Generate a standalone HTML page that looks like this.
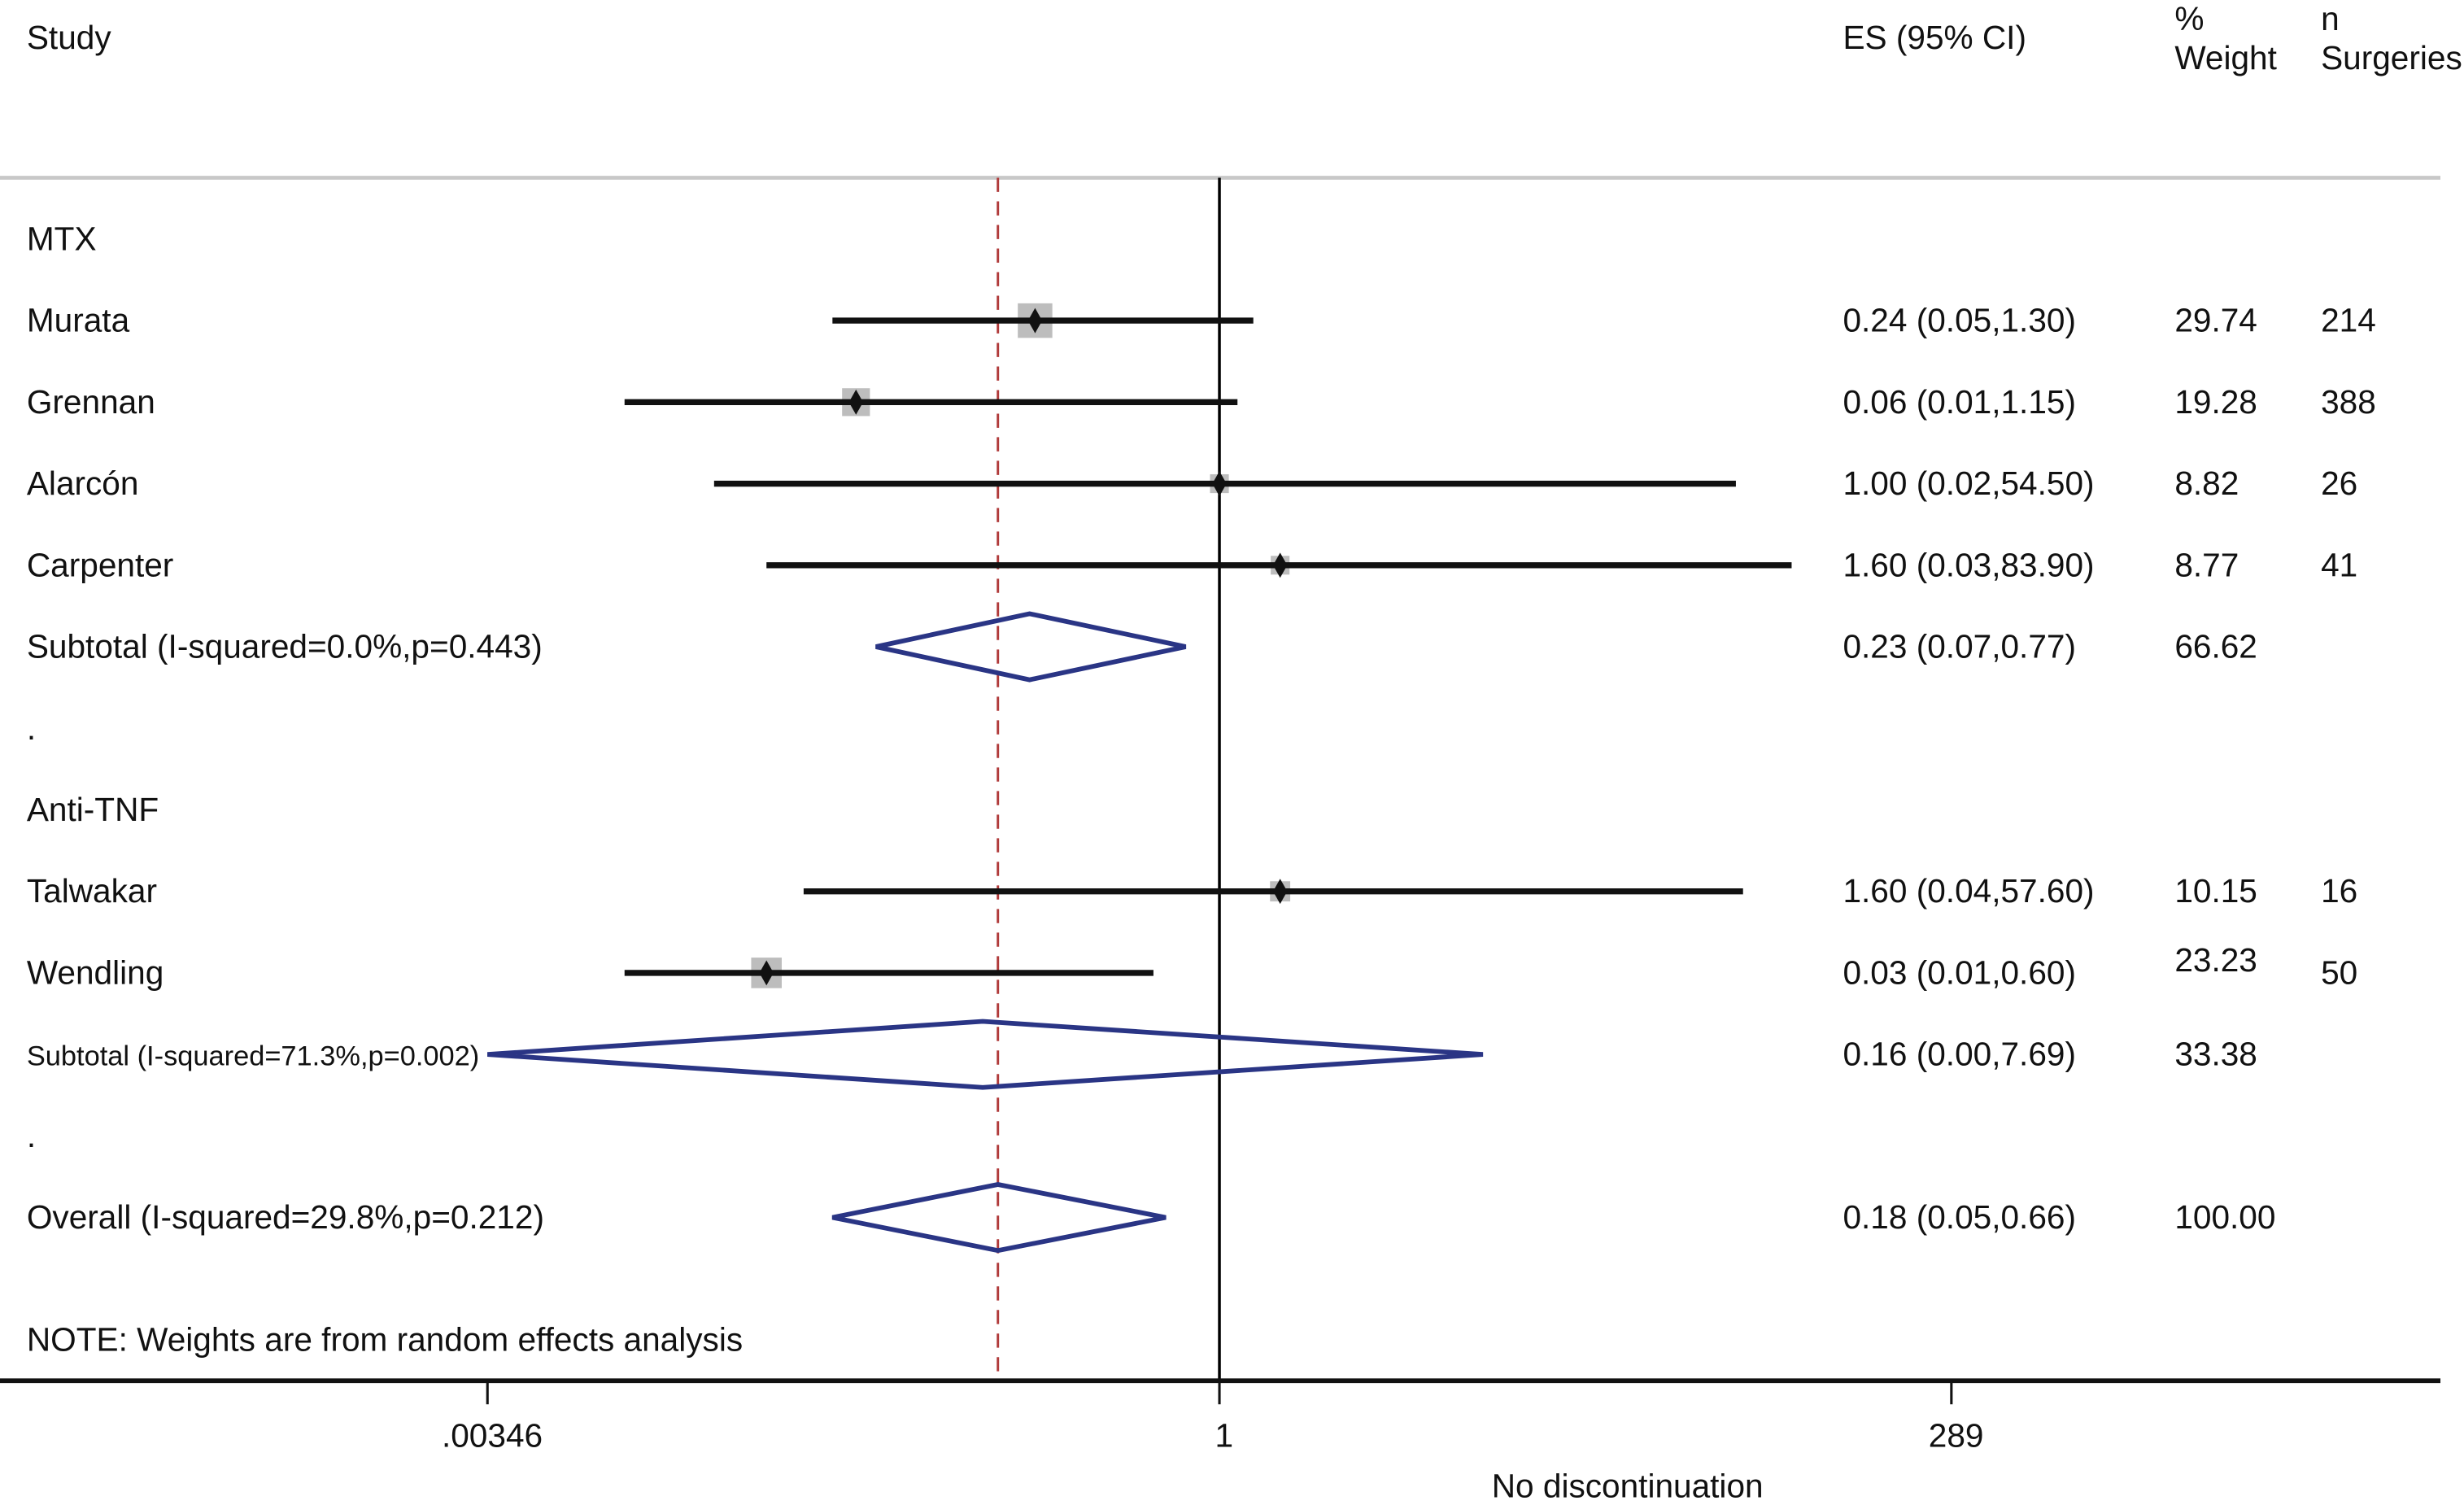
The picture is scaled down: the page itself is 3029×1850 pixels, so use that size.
<!DOCTYPE html>
<html><head><meta charset="utf-8"><style>
html,body{margin:0;padding:0;background:#fff;}
svg{display:block;}
text{font-family:"Liberation Sans",sans-serif;fill:#111;}
</style></head><body>
<svg id="plot" width="3029" height="1850" viewBox="0 0 1567 957" xmlns="http://www.w3.org/2000/svg"></svg>
<script>
// ---- data ----
const studyNames = ["Murata","Grennan","Alarcón","Carpenter","Talwakar","Wendling"];
const studyRows = [2,3,4,5,9,10];
const studyES = [0.24,0.06,1.00,1.60,1.60,0.03];
const studyLo = [0.05,0.01,0.02,0.03,0.04,0.01];
const studyHi = [1.30,1.15,54.50,83.90,57.60,0.60];
const studyWeight = [29.74,19.28,8.82,8.77,10.15,23.23];
const studyN = ["214","388","26","41","16","50"];
const studyESLabel = ["0.24 (0.05,1.30)","0.06 (0.01,1.15)","1.00 (0.02,54.50)","1.60 (0.03,83.90)","1.60 (0.04,57.60)","0.03 (0.01,0.60)"];
const studyWeightLabel = ["29.74","19.28","8.82","8.77","10.15","23.23"];

const poolNames = ["Subtotal (I-squared=0.0%,p=0.443)","Subtotal (I-squared=71.3%,p=0.002)","Overall (I-squared=29.8%,p=0.212)"];
const poolRows = [6,11,13];
const poolES = [0.23,0.16,0.18];
const poolLo = [0.07,0.00,0.05];
const poolHi = [0.77,7.69,0.66];
const poolESLabel = ["0.23 (0.07,0.77)","0.16 (0.00,7.69)","0.18 (0.05,0.66)"];
const poolWeightLabel = ["66.62","33.38","100.00"];

const groupLabels = ["MTX",".","Anti-TNF","."];
const groupRows = [1,7,8,12];

const tickValues = [0.00346,1,289];
const tickLabels = [".00346","1","289"];
const axisMin = 0.00346, axisMax = 289;
const overallLine = 0.18;

// ---- scales ----
const X0 = 310, X1 = 1241;
function xs(v){ v = Math.max(axisMin, Math.min(axisMax, v)); return X0 + (Math.log(v)-Math.log(axisMin))/(Math.log(axisMax)-Math.log(axisMin))*(X1-X0); }
function ys(r){ return 152 + (r-1)*51.85; }

const svg = document.getElementById('plot');
const NS = "http://www.w3.org/2000/svg";
function mk(tag, attrs){ const e=document.createElementNS(NS,tag); for(const k in attrs) e.setAttribute(k,attrs[k]); svg.appendChild(e); return e; }
function txt(s,x,y,size,anchor,name){
  const t = mk('text',{transform:`translate(${x},${y}) scale(1.0,1)`,'font-size':size,'text-anchor':anchor||'start'});
  t.textContent = s;
  
  
  return t;
}

// headers
txt("Study",17,31,21,'start','header-study');
txt("ES (95% CI)",1172,31,21,'start','header-es');
txt("%",1383,19,21,'start','header-percent');
txt("Weight",1383,44,21,'start','header-weight');
txt("n",1476,19,21,'start','header-n');
txt("Surgeries",1476,44,21,'start','header-surgeries');

let e = mk('line',{x1:0,y1:113,x2:1552,y2:113,stroke:'#c8c8c8','stroke-width':2.5});



e = mk('line',{x1:xs(1),y1:113,x2:xs(1),y2:878,stroke:'#000','stroke-width':1.8});



e = mk('line',{x1:xs(overallLine),y1:113,x2:xs(overallLine),y2:878,stroke:'#b03a3a','stroke-width':1.5,'stroke-dasharray':'9,6'});



groupLabels.forEach((g,i)=>{ txt(g,17,ys(groupRows[i])+7,21,'start','group-label'); });

studyNames.forEach((n,i)=>{
  const y = ys(studyRows[i]);
  txt(n,17,y+7,21,'start','study-name');
  const s = Math.sqrt(studyWeight[i])*4.03;
  let b = mk('rect',{x:xs(studyES[i])-s/2,y:y-s/2,width:s,height:s,fill:'#bdbdbd'});
  
  
  let l = mk('line',{x1:xs(studyLo[i]),y1:y,x2:xs(studyHi[i]),y2:y,stroke:'#111','stroke-width':3.8});
  
  
  const cx = xs(studyES[i]);
  let d = mk('polygon',{points:`${cx},${y-8} ${cx+4.5},${y} ${cx},${y+8} ${cx-4.5},${y}`,fill:'#111'});
  
  
  txt(studyESLabel[i],1172,y+7,21,'start','es-label');
  txt(studyWeightLabel[i],1383,y+7-(i===5?8:0),21,'start','weight-label');
  txt(studyN[i],1476,y+7,21,'start','n-label');
});

poolNames.forEach((n,i)=>{
  const y = ys(poolRows[i]);
  txt(n,17,y+7,i===1?17.8:21,'start','pooled-name');
  const l=xs(poolLo[i]), c=xs(poolES[i]), r=xs(poolHi[i]);
  let d = mk('polygon',{points:`${l},${y} ${c},${y-21} ${r},${y} ${c},${y+21}`,fill:'none',stroke:'#2a3585','stroke-width':3});
  
  
  txt(poolESLabel[i],1172,y+7,21,'start','es-label');
  txt(poolWeightLabel[i],1383,y+7,21,'start','weight-label');
});

txt("NOTE: Weights are from random effects analysis",17,859,21,'start','note');

e = mk('line',{x1:0,y1:878,x2:1552,y2:878,stroke:'#111','stroke-width':3});


tickValues.forEach((v,i)=>{
  let t = mk('line',{x1:xs(v),y1:878,x2:xs(v),y2:893,stroke:'#111','stroke-width':1.6});
  
  
  txt(tickLabels[i],xs(v)+3,920,21,'middle','x-tick-label');
});
txt("No discontinuation",1035,952,21,'middle','x-axis-title');
</script>
</body></html>
